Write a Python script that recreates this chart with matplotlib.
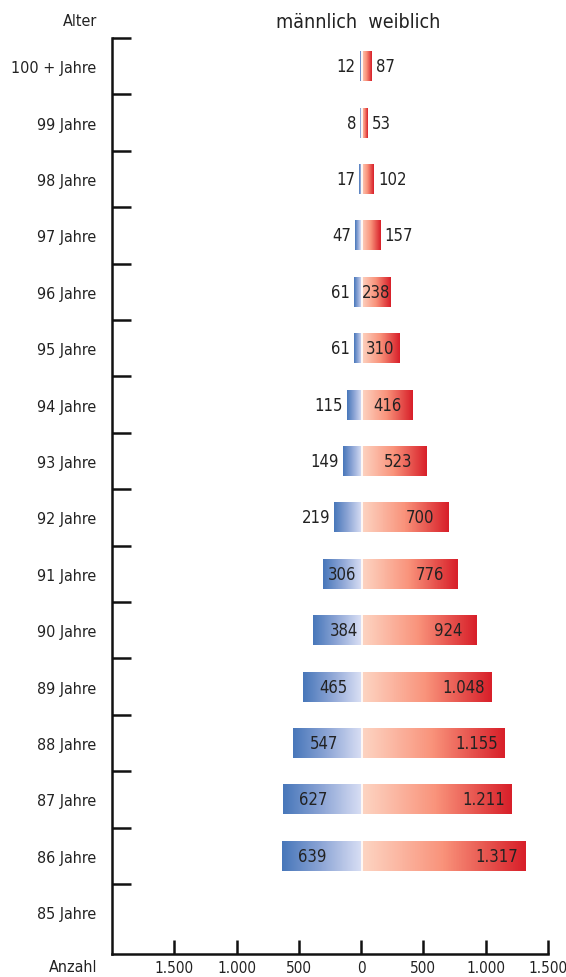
import matplotlib
matplotlib.use("Agg")
import matplotlib.pyplot as plt
import numpy as np
from matplotlib.colors import LinearSegmentedColormap

plt.rcParams['font.family'] = ['DejaVu Sans']
plt.rcParams['font.stretch'] = 'condensed'

ages = ["100 + Jahre", "99 Jahre", "98 Jahre", "97 Jahre", "96 Jahre", "95 Jahre",
        "94 Jahre", "93 Jahre", "92 Jahre", "91 Jahre", "90 Jahre", "89 Jahre",
        "88 Jahre", "87 Jahre", "86 Jahre", "85 Jahre"]
male = [12, 8, 17, 47, 61, 61, 115, 149, 219, 306, 384, 465, 547, 627, 639, None]
female = [87, 53, 102, 157, 238, 310, 416, 523, 700, 776, 924, 1048, 1155, 1211, 1317, None]
xticks = [-1500, -1000, -500, 0, 500, 1000, 1500]
xticklabels = ["1.500", "1.000", "500", "0", "500", "1.000", "1.500"]

def fmt(v):
    return f"{v:,}".replace(",", ".")

TXT = "#222222"
FS = 12
cm_m = LinearSegmentedColormap.from_list("m", ["#4877ba", "#8ea6d6", "#d8def4"])
cm_f = LinearSegmentedColormap.from_list("f", ["#fdd5c3", "#f9927a", "#d8202a"])

fig = plt.figure(figsize=(5.66, 9.78), dpi=100)
ax = fig.add_axes([112/566, (978-955)/978, (548-112)/566, (955-39)/978])

ax.set_xlim(-2000, 1500)
ax.set_ylim(15.74, -0.48)

h = 0.53
grad = np.linspace(0, 1, 64).reshape(1, -1)
for i, (m, f) in enumerate(zip(male, female)):
    if m is None:
        continue
    ax.imshow(grad, cmap=cm_m, extent=(-m, 0, i + h/2, i - h/2), aspect='auto', zorder=2,
              interpolation='antialiased')
    ax.imshow(grad, cmap=cm_f, extent=(0, f, i + h/2, i - h/2), aspect='auto', zorder=2,
              interpolation='antialiased')
    if m >= 300:
        off = 245 if m - 245 > 100 else m / 2
        ax.text(-m + off, i, fmt(m), ha='center', va='center', fontsize=FS, color=TXT, zorder=4)
    else:
        ax.text(-m - 32, i, fmt(m), ha='right', va='center', fontsize=FS, color=TXT, zorder=4)
    if f >= 200:
        off = min(225, f / 2)
        ax.text(f - off, i, fmt(f), ha='center', va='center', fontsize=FS, color=TXT, zorder=4)
    else:
        ax.text(f + 32, i, fmt(f), ha='left', va='center', fontsize=FS, color=TXT, zorder=4)

ax.vlines(5, -0.5, 14.5, color='white', lw=1.2, zorder=3)

for s in ['top', 'right']:
    ax.spines[s].set_visible(False)
for s in ['left', 'bottom']:
    ax.spines[s].set_linewidth(1.8)
    ax.spines[s].set_color('#111111')
ax.spines['bottom'].set_bounds(-2000, 1500)

ax.set_xticks(xticks)
ax.set_xticklabels(xticklabels)
ax.tick_params(axis='x', direction='in', length=10, width=1.8, color='#111111',
               labelsize=11, labelcolor=TXT, pad=4)

ax.set_yticks(np.arange(-0.5, 15, 1.0))
ax.set_yticklabels([])
ax.tick_params(axis='y', which='major', direction='in', length=14, width=1.8, color='#111111')
ax.set_yticks(np.arange(len(ages)), minor=True)
ax.set_yticklabels(ages, minor=True)
ax.tick_params(axis='y', which='minor', length=0, labelsize=11.5, labelcolor=TXT, pad=11)

fig.text(97/566, 1 - 22/978, "Alter", ha='right', va='center', fontsize=11.5, color=TXT)
fig.text(97/566, 1 - 968/978, "Anzahl", ha='right', va='center', fontsize=11.5, color=TXT)
fig.text(358/566, 1 - 22/978, "männlich  weiblich", ha='center', va='center', fontsize=14, color=TXT)

fig.savefig("out.png", dpi=100)
